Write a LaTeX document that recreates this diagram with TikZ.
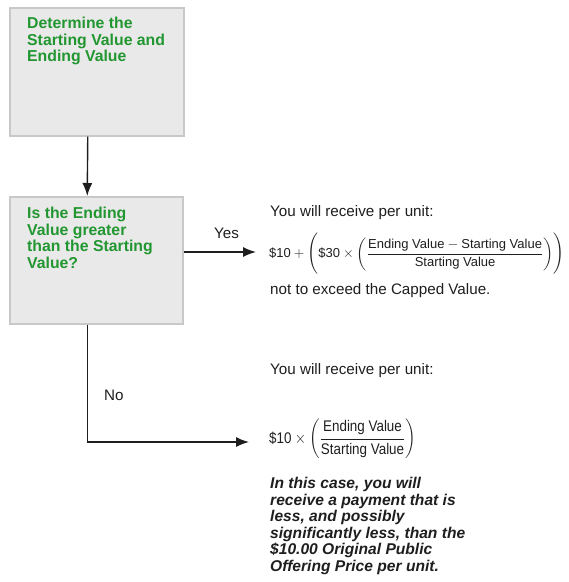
\documentclass[tikz,border=0pt]{standalone}
\usepackage{amsmath}
\usepackage{graphicx}
\usepackage{fontspec}
\setmainfont{Liberation Sans}
\usetikzlibrary{arrows.meta}
\definecolor{boxgreen}{RGB}{34,150,48}
\definecolor{boxfill}{RGB}{233,233,233}
\definecolor{boxline}{RGB}{200,200,200}
\definecolor{bodytext}{RGB}{30,30,30}

\begin{document}
\begin{tikzpicture}[x=1pt,y=-1pt,
  box/.style={draw=boxline,fill=boxfill,line width=1.5pt,anchor=north west,inner sep=0pt},
  greentext/.style={anchor=north west,align=left,inner sep=0pt,text=boxgreen,
    font=\fontsize{15.8}{16.6}\selectfont\bfseries},
  body/.style={anchor=west,inner sep=0pt,text=bodytext,font=\fontsize{15.2}{17}\selectfont},
  flow/.style={->,line width=1.4pt,bodytext},
  >={Latex[length=13pt,width=10pt]}]
\useasboundingbox (0,0) rectangle (569,582);
% Boxes on the left
\node[box,minimum width=174pt,minimum height=128pt] (start) at (9,7) {};
\node[greentext] (starttext) at (27,17) {Determine the\\Starting Value and\\Ending Value};
\node[box,minimum width=173pt,minimum height=127pt] (test) at (9,196) {};
\node[greentext] (testtext) at (27,207) {Is the Ending\\Value greater\\than the Starting\\Value?};
% Connectors
\coordinate (yesend) at (256,252);
\coordinate (noend) at (249,442);
\draw[flow] ([xshift=-9pt]start.south) -- ([xshift=-9pt]test.north);
\draw[flow] (test.east |- yesend) -- (yesend);
\draw[flow] ([xshift=-9pt]test.south) |- (noend);
\node[body] (yes) at (214,233) {Yes};
\node[body] (no) at (104,395) {No};
% Yes branch
\node[body] (yestitle) at (270,213) {You will receive per unit:};
\node[anchor=west,inner sep=0pt,text=bodytext] (yesformula) at (269,254)
  {\resizebox{295pt}{!}{\fontsize{13.6}{15}\selectfont$\text{\$10}+\Biggl(\text{\$30}\times\biggl(\dfrac{\text{Ending Value}-\text{Starting Value}}{\text{Starting Value}}\biggr)\Biggr)$}};
\node[body] (capnote) at (270,291) {not to exceed the Capped Value.};
% No branch
\node[body] (notitle) at (270,371) {You will receive per unit:};
\node[anchor=west,inner sep=0pt,text=bodytext] (noformula) at (269,439)
  {\scalebox{1.0}[1.15]{\fontsize{13.4}{15}\selectfont$\text{\$10}\times\left(\dfrac{\text{Ending Value}}{\text{Starting Value}}\right)$}};
\node[anchor=north west,align=left,inner sep=0pt,text=bodytext,
  font=\fontsize{15.6}{16.6}\selectfont\bfseries\itshape] (warning) at (270,477)
  {In this case, you will\\receive a payment that is\\less, and possibly\\significantly less, than the\\\$10.00 Original Public\\Offering Price per unit.};
\end{tikzpicture}
\end{document}
